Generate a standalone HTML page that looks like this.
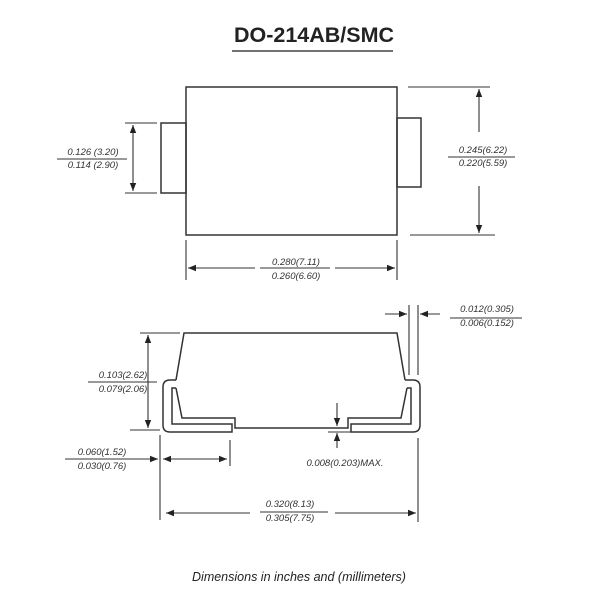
<!DOCTYPE html>
<html><head><style>body{margin:0;background:#fff}svg{display:block}</style></head><body>
<svg width="600" height="600" viewBox="0 0 600 600" xmlns="http://www.w3.org/2000/svg" font-family="Liberation Sans, sans-serif">
<defs>
<marker id="a" viewBox="0 0 10 10" refX="10" refY="5" markerWidth="9" markerHeight="8" orient="auto-start-reverse" markerUnits="userSpaceOnUse"><path d="M0,1 L10,5 L0,9 z" fill="#222"/></marker>
</defs>
<text x="314" y="42" font-size="21.5" font-weight="bold" text-anchor="middle" fill="#222">DO-214AB/SMC</text>
<line x1="232" y1="51" x2="393" y2="51" stroke="#444" stroke-width="1.5"/>
<g stroke="#333" stroke-width="1.5" fill="none">
<rect x="186" y="87" width="211" height="148"/>
<rect x="161" y="123" width="25" height="70"/>
<rect x="397" y="118" width="24" height="69"/>
</g>
<g stroke="#333" stroke-width="1.1" fill="none">
<line x1="125" y1="123" x2="157" y2="123"/><line x1="125" y1="193" x2="157" y2="193"/>
<line x1="133" y1="125" x2="133" y2="191" marker-start="url(#a)" marker-end="url(#a)"/>
<line x1="57" y1="159" x2="127" y2="159"/>
<line x1="408" y1="87" x2="490" y2="87"/><line x1="410" y1="235" x2="495" y2="235"/>
<line x1="479" y1="132" x2="479" y2="89" marker-end="url(#a)"/>
<line x1="479" y1="186" x2="479" y2="233" marker-end="url(#a)"/>
<line x1="448" y1="157" x2="515" y2="157"/>
<line x1="186" y1="240" x2="186" y2="280"/><line x1="397" y1="240" x2="397" y2="280"/>
<line x1="255" y1="268" x2="188" y2="268" marker-end="url(#a)"/>
<line x1="335" y1="268" x2="395" y2="268" marker-end="url(#a)"/>
<line x1="260" y1="268" x2="330" y2="268"/>
</g>
<g font-size="9.5" font-style="italic" fill="#333" text-anchor="middle">
<text x="93" y="155">0.126 (3.20)</text><text x="93" y="168">0.114 (2.90)</text>
<text x="483" y="153">0.245(6.22)</text><text x="483" y="166">0.220(5.59)</text>
<text x="296" y="265">0.280(7.11)</text><text x="296" y="279">0.260(6.60)</text>
<text x="487" y="312">0.012(0.305)</text><text x="487" y="326">0.006(0.152)</text>
<text x="123" y="378">0.103(2.62)</text><text x="123" y="392">0.079(2.06)</text>
<text x="102" y="455">0.060(1.52)</text><text x="102" y="469">0.030(0.76)</text>
<text x="345" y="466">0.008(0.203)MAX.</text>
<text x="290" y="507">0.320(8.13)</text><text x="290" y="521">0.305(7.75)</text>
</g>
<text x="299" y="581" font-size="12.5" font-style="italic" fill="#222" text-anchor="middle">Dimensions in inches and (millimeters)</text>
<g stroke="#333" stroke-width="1.5" fill="none">
<path d="M176,380 L184,333 L397,333 L405,380"/>
<path d="M176,388 L182,418 L235,418 L235,428 L348,428 L348,418 L401,418 L407,388"/>
<path d="M176,380 L170,380 Q163,380 163,387 L163,425 Q163,432 170,432 L232,432 L232,424 L172,424 L172,388 L176,388"/>
<path d="M405,380 L413,380 Q420,380 420,387 L420,425 Q420,432 413,432 L351,432 L351,424 L411,424 L411,388 L407,388"/>
</g>
<g stroke="#333" stroke-width="1.1" fill="none">
<line x1="409" y1="305" x2="409" y2="375"/><line x1="418" y1="305" x2="418" y2="375"/>
<line x1="385" y1="314" x2="407" y2="314" marker-end="url(#a)"/>
<line x1="440" y1="314" x2="420" y2="314" marker-end="url(#a)"/>
<line x1="450" y1="318" x2="522" y2="318"/>
<line x1="140" y1="333" x2="180" y2="333"/><line x1="130" y1="430" x2="160" y2="430"/>
<line x1="148" y1="335" x2="148" y2="428" marker-start="url(#a)" marker-end="url(#a)"/>
<line x1="88" y1="382" x2="157" y2="382"/>
<line x1="160" y1="435" x2="160" y2="520"/>
<line x1="230" y1="440" x2="230" y2="466"/>
<line x1="418" y1="438" x2="418" y2="522"/>
<line x1="65" y1="459" x2="158" y2="459" marker-end="url(#a)"/>
<line x1="163" y1="459" x2="227" y2="459" marker-start="url(#a)" marker-end="url(#a)"/>
<line x1="337" y1="403" x2="337" y2="426" marker-end="url(#a)"/>
<line x1="337" y1="448" x2="337" y2="433" marker-end="url(#a)"/>
<line x1="328" y1="432" x2="355" y2="432"/>
<line x1="250" y1="513" x2="166" y2="513" marker-end="url(#a)"/>
<line x1="335" y1="513" x2="416" y2="513" marker-end="url(#a)"/>
<line x1="260" y1="512" x2="328" y2="512"/>
</g>
</svg>
</body></html>
